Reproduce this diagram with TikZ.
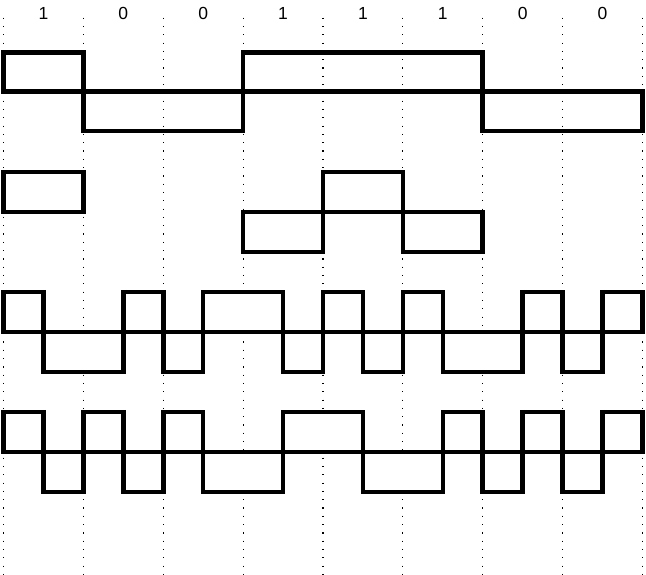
\documentclass[tikz,border=0pt]{standalone}
\usepackage{fontspec}
\setmainfont{Liberation Sans}
\begin{document}
\begin{tikzpicture}[x=39.9375pt,y=-1pt,
  grid/.style={line width=1.2pt, dash pattern=on 1.2pt off 7.1pt},
  wave/.style={line width=4.6pt, line join=miter},
  wavefill/.style={wave, fill=white},
  bitlabel/.style={font=\fontsize{17.5}{20}\selectfont, anchor=base, inner sep=0pt}]
\useasboundingbox (0pt,0pt) rectangle (646pt,-575pt);
\begin{scope}[xshift=3.5pt]
% dotted grid
\foreach \k in {0,2,...,16} \draw[grid] (\k,17.7) -- (\k,575);
% bit labels
\foreach \b [count=\i from 0] in {1,0,0,1,1,1,0,0}
  \node[bitlabel] (b\i) at ({2*\i+1},20) {\b};
% row 1
\draw[wave] (0,52.5) rectangle (2,91.8);
\draw[wave] (2,91.8) rectangle (6,131);
\draw[wave] (6,52.5) rectangle (12,91.8);
\draw[wave] (12,91.8) rectangle (16,131);
% row 2
\draw[wave] (0,172) rectangle (2,212);
\draw[wave] (6,212) rectangle (8,252);
\draw[wave] (8,172) rectangle (10,212);
\draw[wave] (10,212) rectangle (12,252);
% row 3
\foreach \a/\c/\t/\u in {0/1/292/332, 1/3/332/372, 3/4/292/332, 4/5/332/372, 5/7/292/332, 7/8/332/372, 8/9/292/332, 9/10/332/372, 10/11/292/332, 11/13/332/372, 13/14/292/332, 14/15/332/372, 15/16/292/332}
  \draw[wavefill] (\a,\t) rectangle (\c,\u);
% row 4
\foreach \a/\c/\t/\u in {0/1/412/452, 1/2/452/492, 2/3/412/452, 3/4/452/492, 4/5/412/452, 5/7/452/492, 7/9/412/452, 9/11/452/492, 11/12/412/452, 12/13/452/492, 13/14/412/452, 14/15/452/492, 15/16/412/452}
  \draw[wavefill] (\a,\t) rectangle (\c,\u);
\end{scope}
\end{tikzpicture}
\end{document}
